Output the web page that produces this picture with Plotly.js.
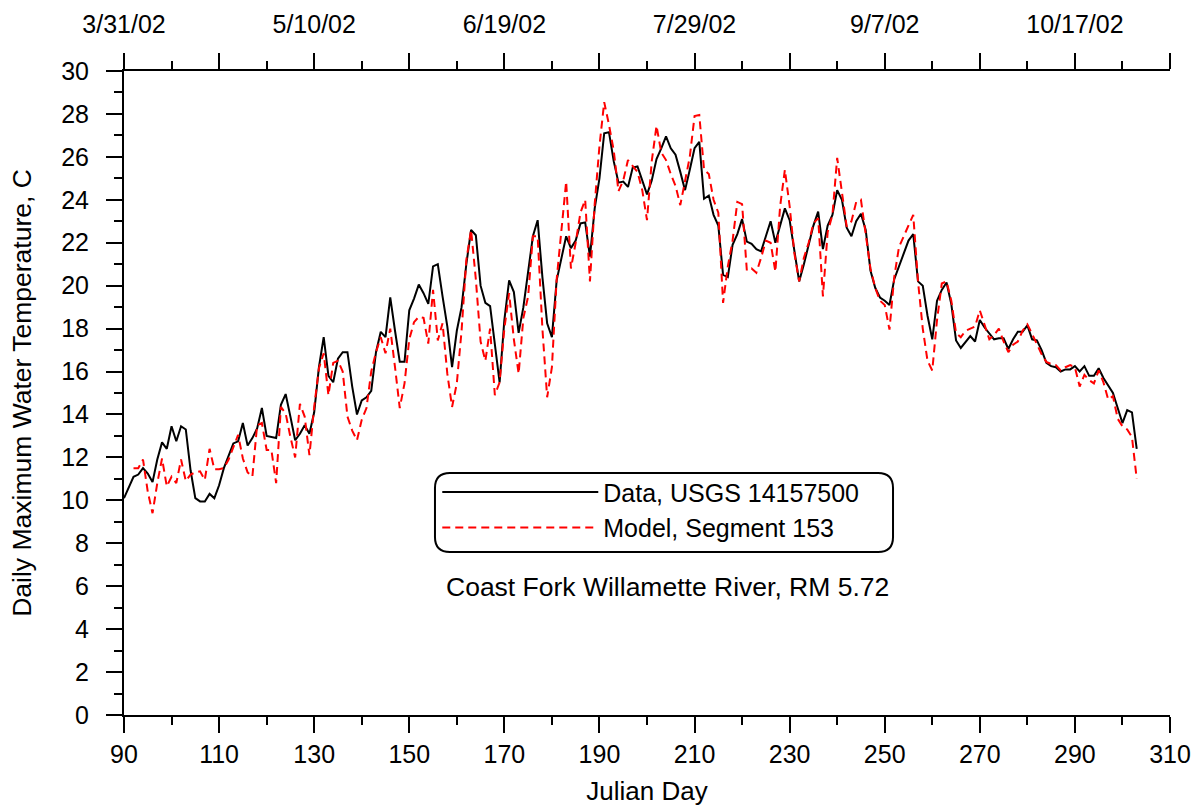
<!DOCTYPE html>
<html>
<head>
<meta charset="utf-8">
<script src="https://cdn.plot.ly/plotly-3.0.1.min.js"></script>
<style>html,body{margin:0;padding:0;background:#fff;}#chart{width:1200px;height:808px;}</style>
</head>
<body>
<div id="chart"></div>
<script>
// Julian days of the observed record
const dataDays = [90,91,92,93,94,95,96,97,98,99,100,101,102,103,104,105,106,107,108,109,110,111,112,113,114,115,116,117,118,119,120,121,122,123,124,125,126,127,128,129,130,131,132,133,134,135,136,137,138,139,140,141,142,143,144,145,146,147,148,149,150,151,152,153,154,155,156,157,158,159,160,161,162,163,164,165,166,167,168,169,170,171,172,173,174,175,176,177,178,179,180,181,182,183,184,185,186,187,188,189,190,191,192,193,194,195,196,197,198,199,200,201,202,203,204,205,206,207,208,209,210,211,212,213,214,215,216,217,218,219,220,221,222,223,224,225,226,227,228,229,230,231,232,233,234,235,236,237,238,239,240,241,242,243,244,245,246,247,248,249,250,251,252,253,254,255,256,257,258,259,260,261,262,263,264,265,266,267,268,269,270,271,272,273,274,275,276,277,278,279,280,281,282,283,284,285,286,287,288,289,290,291,292,293,294,295,296,297,298,299,300,301,302,303];
// Daily maximum water temperature, USGS 14157500 (C)
const dataTemp = [10.1,10.6,11.1,11.2,11.5,11.25,10.85,11.9,12.7,12.4,13.45,12.75,13.45,13.3,11.4,10.1,9.95,9.95,10.3,10.1,10.7,11.5,12.1,12.65,12.75,13.6,12.55,12.9,13.35,14.3,13.0,12.95,12.9,14.45,14.95,13.9,12.8,13.1,13.5,13.1,14.1,16.2,17.6,15.8,15.5,16.6,16.9,16.9,15.3,14.0,14.65,14.8,15.1,16.9,17.85,17.6,19.45,17.9,16.45,16.45,18.85,19.4,20.05,19.65,19.15,20.9,21.0,19.5,18.1,16.2,17.9,19.0,21.0,22.6,22.35,20.0,19.2,19.05,17.15,15.5,18.4,20.25,19.7,17.8,19.0,20.7,22.3,23.05,20.4,18.25,17.6,20.25,21.2,22.3,21.75,22.1,22.9,22.95,21.35,23.6,25.0,27.1,27.15,25.8,24.8,24.85,24.6,25.5,25.55,24.9,24.25,24.9,25.9,26.4,26.95,26.4,26.1,25.3,24.45,25.4,26.4,26.7,24.05,24.2,23.3,22.8,20.5,20.4,21.9,22.4,23.1,22.05,21.95,21.7,21.6,22.3,23.0,22.0,22.8,23.6,23.05,21.7,20.2,21.0,21.9,22.8,23.45,21.7,22.8,23.3,24.45,24.0,22.7,22.3,23.0,23.35,22.6,20.7,19.9,19.45,19.3,19.1,20.3,20.9,21.5,22.1,22.4,20.2,20.0,18.6,17.5,19.3,19.8,20.15,19.15,17.45,17.1,17.4,17.65,17.4,18.4,18.05,17.8,17.5,17.55,17.55,17.05,17.5,17.85,17.85,18.15,17.5,17.45,17.0,16.4,16.25,16.2,16.0,16.1,16.1,16.25,16.0,16.25,15.8,15.8,16.15,15.7,15.35,15.0,14.3,13.6,14.2,14.1,12.4];
// Julian days of the model output
const modelDays = [92,93,94,95,96,97,98,99,100,101,102,103,104,105,106,107,108,109,110,111,112,113,114,115,116,117,118,119,120,121,122,123,124,125,126,127,128,129,130,131,132,133,134,135,136,137,138,139,140,141,142,143,144,145,146,147,148,149,150,151,152,153,154,155,156,157,158,159,160,161,162,163,164,165,166,167,168,169,170,171,172,173,174,175,176,177,178,179,180,181,182,183,184,185,186,187,188,189,190,191,192,193,194,195,196,197,198,199,200,201,202,203,204,205,206,207,208,209,210,211,212,213,214,215,216,217,218,219,220,221,222,223,224,225,226,227,228,229,230,231,232,233,234,235,236,237,238,239,240,241,242,243,244,245,246,247,248,249,250,251,252,253,254,255,256,257,258,259,260,261,262,263,264,265,266,267,268,269,270,271,272,273,274,275,276,277,278,279,280,281,282,283,284,285,286,287,288,289,290,291,292,293,294,295,296,297,298,299,300,301,302,303];
// Model, Segment 153 (C)
const modelTemp = [11.5,11.5,11.9,10.4,9.4,10.8,11.95,10.65,11.1,10.8,11.9,10.9,11.2,11.3,11.35,10.95,12.4,11.45,11.45,11.5,11.9,12.5,13.05,11.95,11.3,11.1,13.5,13.6,12.35,12.35,10.8,14.35,14.05,12.95,12.0,14.5,13.9,12.1,14.35,16.15,16.85,14.9,16.4,16.5,16.0,13.9,13.25,12.8,13.75,14.3,16.0,16.9,17.6,16.85,18.0,16.2,14.3,15.45,17.5,18.3,18.55,18.5,17.3,19.8,17.45,18.25,15.9,14.35,15.45,17.9,21.2,22.6,20.3,17.4,16.5,18.0,14.9,15.5,18.0,19.65,17.5,15.9,18.5,19.5,22.3,22.3,18.0,14.8,16.2,20.3,22.6,24.85,20.8,22.0,23.4,24.0,20.2,23.8,26.5,28.55,27.5,26.3,24.4,24.9,25.85,25.55,25.3,24.45,23.05,25.8,27.45,26.2,25.85,25.2,24.65,23.75,24.8,26.0,27.9,27.95,25.4,25.2,24.0,23.4,19.2,20.9,22.1,23.9,23.8,20.7,20.8,20.6,21.3,22.1,22.0,20.65,23.7,25.4,23.7,21.5,20.2,21.3,22.0,22.9,23.15,19.5,22.5,23.3,25.95,24.45,22.75,23.0,23.9,24.0,22.5,20.8,19.9,19.3,19.1,17.95,20.4,21.8,22.3,22.8,23.3,20.2,18.0,16.5,16.05,18.4,20.1,20.2,19.3,17.8,17.6,17.9,18.0,18.1,18.85,18.2,17.5,17.7,18.0,17.4,16.9,17.25,17.4,17.9,18.2,17.75,17.3,16.8,16.45,16.35,16.3,16.05,16.2,16.3,16.2,15.3,15.85,15.6,15.45,16.05,15.5,14.7,14.85,13.8,13.45,13.3,12.95,11.0];
// Axis ticks
const bottomTicks = [90,110,130,150,170,190,210,230,250,270,290,310];
const topTicks = [90,110,130,150,170,190,210,230,250,270,290,310];
const topLabels = ['3/31/02','','5/10/02','','6/19/02','','7/29/02','','9/7/02','','10/17/02',''];
const yTicks = [0,2,4,6,8,10,12,14,16,18,20,22,24,26,28,30];

const FONT = 'Arial, "Liberation Sans", sans-serif';
const traces = [
  {x: dataDays, y: dataTemp, type: 'scatter', mode: 'lines', name: 'Data, USGS 14157500',
   line: {color: '#000000', width: 2}, xaxis: 'x', yaxis: 'y'},
  {x: modelDays, y: modelTemp, type: 'scatter', mode: 'lines', name: 'Model, Segment 153',
   line: {color: '#ff0000', width: 2, dash: '8px,5px'}, xaxis: 'x', yaxis: 'y'},
  // empty carrier so the top date axis is drawn
  {x: [], y: [], type: 'scatter', mode: 'lines', xaxis: 'x2', yaxis: 'y', showlegend: false, hoverinfo: 'skip'}
];
const axisCommon = {
  showline: true, linecolor: '#000', linewidth: 2, mirror: false,
  ticks: 'outside', ticklen: 16, tickwidth: 2, tickcolor: '#000',
  showgrid: false, zeroline: false,
  tickfont: {family: FONT, size: 25, color: '#000'}
};
const layout = {
  width: 1200, height: 808,
  margin: {l: 124, r: 30, t: 71, b: 93, pad: 0},
  paper_bgcolor: '#fff', plot_bgcolor: '#fff',
  font: {family: FONT, size: 25, color: '#000'},
  showlegend: true,
  legend: {x: 0.2995, y: 0.3815, xanchor: 'left', yanchor: 'top', bgcolor: 'rgba(0,0,0,0)',
           borderwidth: 0, itemwidth: 156, font: {family: FONT, size: 25, color: '#000'},
           tracegroupgap: 0},
  xaxis: Object.assign({}, axisCommon, {
    range: [90, 310], tickmode: 'array', tickvals: bottomTicks,
    minor: {dtick: 10, tick0: 90, ticklen: 8, tickwidth: 2, tickcolor: '#000', ticks: 'outside'},
    title: {text: 'Julian Day', font: {family: FONT, size: 26, color: '#000'}, standoff: 15}
  }),
  xaxis2: Object.assign({}, axisCommon, {
    range: [90, 310], overlaying: 'x', side: 'top', anchor: 'y',
    tickmode: 'array', tickvals: topTicks, ticktext: topLabels,
    ticklabelstandoff: 10,
    minor: {dtick: 10, tick0: 90, ticklen: 8, tickwidth: 2, tickcolor: '#000', ticks: 'outside'}
  }),
  yaxis: Object.assign({}, axisCommon, {
    range: [0, 30], tickmode: 'array', tickvals: yTicks,
    ticklabelstandoff: 12,
    minor: {dtick: 1, tick0: 0, ticklen: 8, tickwidth: 2, tickcolor: '#000', ticks: 'outside'},
    title: {text: 'Daily Maximum Water Temperature, C', font: {family: FONT, size: 26.5, color: '#000'}, standoff: 22}
  }),
  shapes: [{
    type: 'path', xref: 'paper', yref: 'paper',
    path: 'M 0.3116,0.3758 L 0.7209,0.3758 Q 0.7352,0.3758 0.7352,0.3525 L 0.7352,0.2764 Q 0.7352,0.2531 0.7209,0.2531 L 0.3116,0.2531 Q 0.2973,0.2531 0.2973,0.2764 L 0.2973,0.3525 Q 0.2973,0.3758 0.3116,0.3758 Z',
    line: {color: '#000', width: 2}, fillcolor: 'rgba(0,0,0,0)'
  }],
  annotations: [{
    text: 'Coast Fork Willamette River, RM 5.72', xref: 'paper', yref: 'paper',
    x: 0.5196, y: 0.1988, xanchor: 'center', yanchor: 'middle', showarrow: false,
    font: {family: FONT, size: 26.5, color: '#000'}
  }]
};
Plotly.newPlot('chart', traces, layout, {displayModeBar: false, staticPlot: true});
</script>
</body>
</html>
